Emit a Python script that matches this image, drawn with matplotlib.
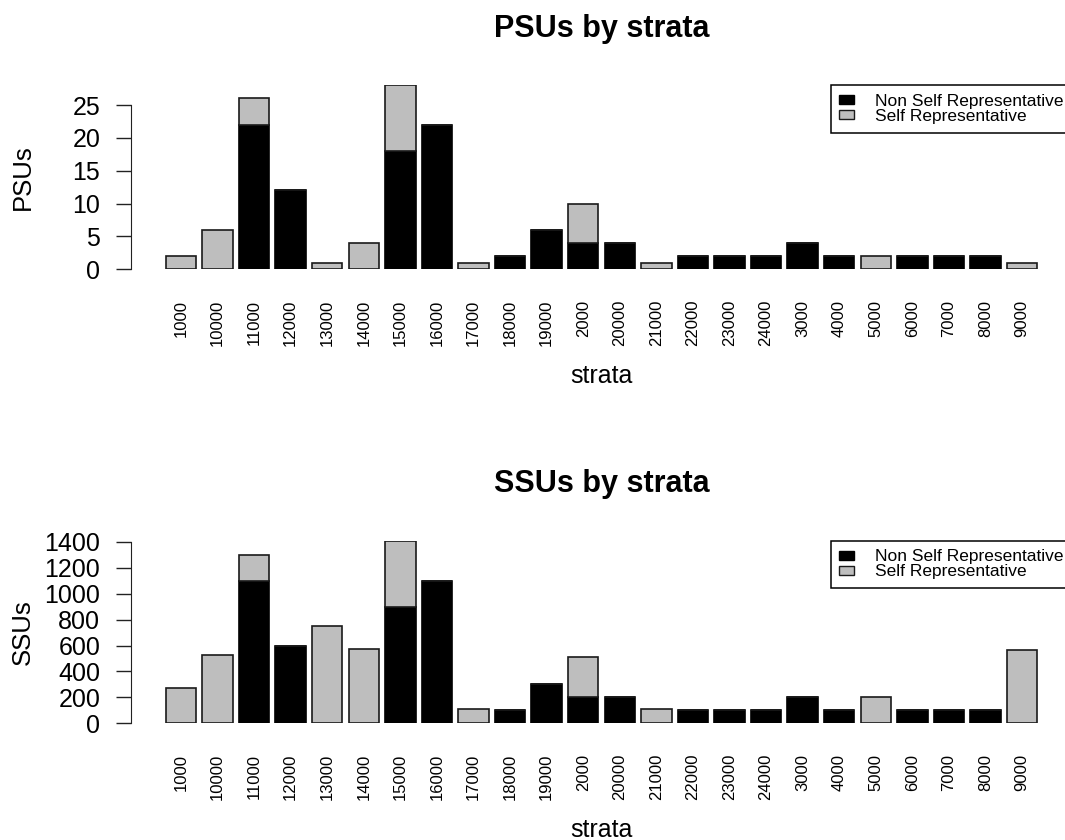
import matplotlib
matplotlib.use("Agg")
import matplotlib.pyplot as plt
from matplotlib.patches import Patch
import numpy as np

plt.rcParams["font.family"] = ["Liberation Sans", "DejaVu Sans"]

strata = ["1000", "10000", "11000", "12000", "13000", "14000", "15000", "16000",
          "17000", "18000", "19000", "2000", "20000", "21000", "22000", "23000",
          "24000", "3000", "4000", "5000", "6000", "7000", "8000", "9000"]

psu_nonself = [0, 0, 22, 12, 0, 0, 18, 22, 0, 2, 6, 4, 4, 0, 2, 2, 2, 4, 2, 0, 2, 2, 2, 0]
psu_self = [2, 6, 4, 0, 1, 4, 10, 0, 1, 0, 0, 6, 0, 1, 0, 0, 0, 0, 0, 2, 0, 0, 0, 1]

ssu_nonself = [0, 0, 1100, 600, 0, 0, 900, 1100, 0, 100, 300, 200, 200, 0,
               100, 100, 100, 200, 100, 0, 100, 100, 100, 0]
ssu_self = [270, 530, 200, 0, 750, 575, 510, 0, 110, 0, 0, 315, 0, 110,
            0, 0, 0, 0, 0, 200, 0, 0, 0, 565]

legend_labels = ["Non Self Representative", "Self Representative"]
GRAY = "#BEBEBE"

W, H = 1065, 840
fig = plt.figure(figsize=(W / 100, H / 100), dpi=100)


def px_axes(left, top, right, bottom):
    # pixel box -> figure fraction
    return [left / W, 1 - bottom / H, (right - left) / W, (bottom - top) / H]


def stacked_panel(box, lower, upper, ymax, yticks, title, ylabel, title_y, xlab_y):
    ax = fig.add_axes(box)
    n = len(strata)
    x = 0.7 + 1.2 * np.arange(n)
    lower = np.array(lower)
    upper = np.array(upper)
    ax.bar(x, lower, width=1, color="black", edgecolor="black", linewidth=1.2)
    ax.bar(x, upper, width=1, bottom=lower, color=GRAY, edgecolor="#1a1a1a", linewidth=1.2)

    span = x[-1] + 0.5 - (x[0] - 0.5)
    ax.set_xlim(x[0] - 0.5 - 0.04 * span, x[-1] + 0.5 + 0.04 * span)
    ax.set_ylim(0, ymax)

    for s in ["top", "right", "bottom"]:
        ax.spines[s].set_visible(False)
    ax.spines["left"].set_bounds(yticks[0], yticks[-1])
    ax.spines["left"].set_color("#222222")
    ax.set_yticks(yticks)
    ax.tick_params(axis="y", length=11, width=1, pad=11, labelsize=18, color="#222222")
    ax.set_xticks(x)
    ax.set_xticklabels(strata, rotation=90, fontsize=12)
    ax.tick_params(axis="x", length=0, pad=22)

    handles = [Patch(facecolor="black", edgecolor="black"),
               Patch(facecolor=GRAY, edgecolor="#1a1a1a")]
    leg = ax.legend(handles, legend_labels, loc="upper right", bbox_to_anchor=(1, 1),
                    borderaxespad=0, fontsize=12.5, fancybox=False, framealpha=1,
                    handlelength=0.85, handleheight=0.45, handletextpad=1.2,
                    labelspacing=0.0, borderpad=0.5)
    leg.get_frame().set_edgecolor("black")
    leg.get_frame().set_linewidth(1.1)

    cx = (box[0] + box[2] / 2)
    fig.text(cx, 1 - title_y / H, title, ha="center", va="baseline",
             fontsize=22, fontweight="bold")
    fig.text(cx, 1 - xlab_y / H, "strata", ha="center", va="baseline", fontsize=18)
    fig.text(23 / W, box[1] + box[3] / 2, ylabel, rotation=90, ha="center",
             va="center", fontsize=18.5)
    return ax


stacked_panel(px_axes(130.8, 85.3, 1072.2, 269.3), psu_nonself, psu_self, 28,
              [0, 5, 10, 15, 20, 25], "PSUs by strata", "PSUs", 37.5, 383)
stacked_panel(px_axes(130.8, 540.7, 1072.2, 723.3), ssu_nonself, ssu_self, 1410,
              [0, 200, 400, 600, 800, 1000, 1200, 1400], "SSUs by strata", "SSUs", 492, 837)

fig.savefig("out.png", dpi=100)
